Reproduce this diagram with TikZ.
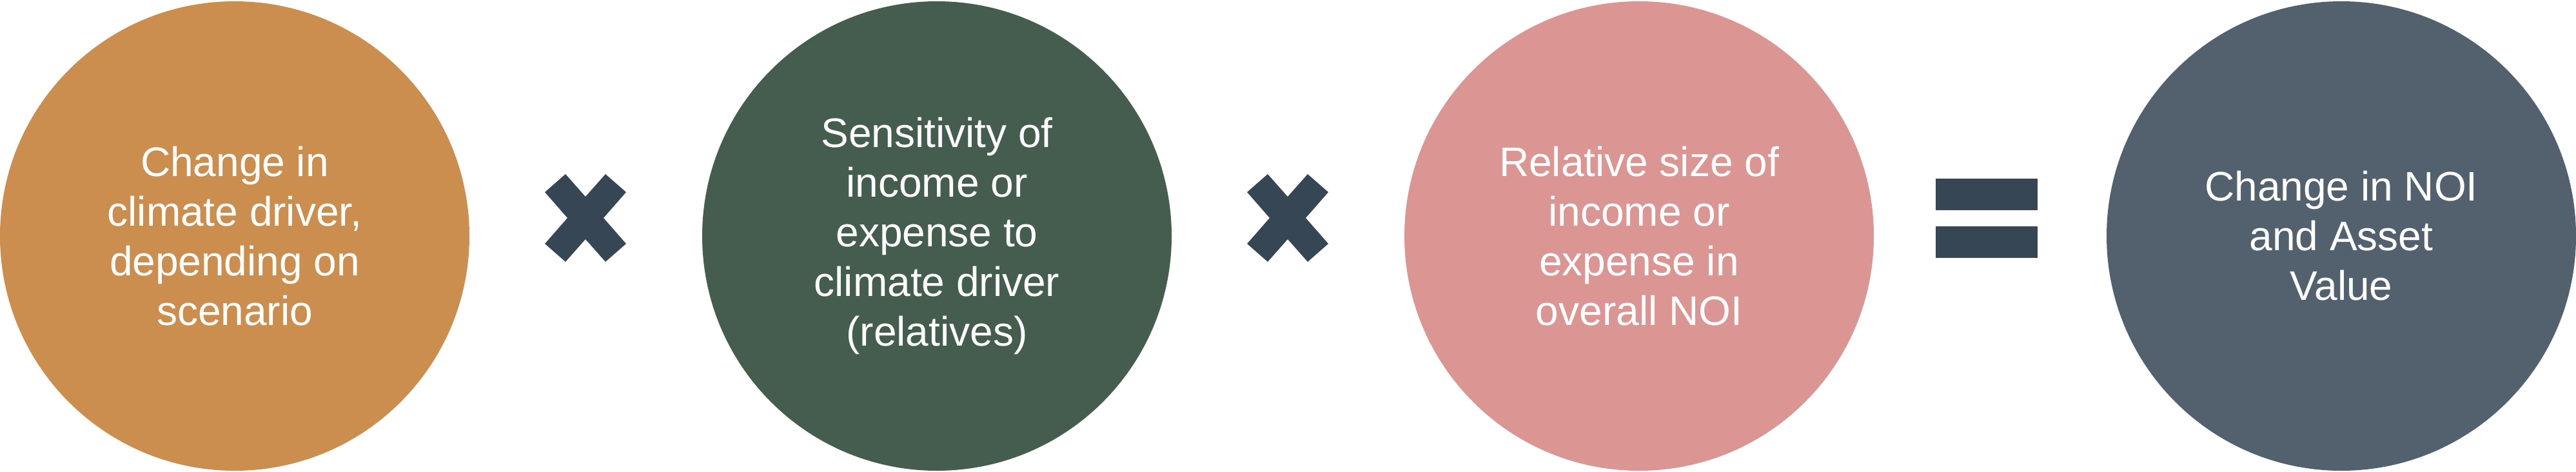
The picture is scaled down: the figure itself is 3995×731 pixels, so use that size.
\documentclass[tikz,border=0pt]{standalone}
\usepackage{fontspec}
\setmainfont{Liberation Sans}
\definecolor{corange}{HTML}{CC8E4E}
\definecolor{cgreen}{HTML}{445D4E}
\definecolor{cpink}{HTML}{DB9593}
\definecolor{cslate}{HTML}{52616D}
\definecolor{csign}{HTML}{364654}
\tikzset{
  bubble/.style={circle, inner sep=0pt, minimum size=182pt, align=center, text=white,
    font=\fontsize{16}{19.25}\selectfont},
  timessign/.pic={\fill[csign] (-31,-68) -- (0,-33) -- (31,-68) -- (63,-40) -- (28,0) -- (63,40)
     -- (31,68) -- (0,33) -- (-31,68) -- (-63,40) -- (-28,0) -- (-63,-40) -- cycle;},
  equalsign/.pic={\fill[csign] (-79,-61.5) rectangle (79,-12.5);
     \fill[csign] (-79,12.5) rectangle (79,61.5);}
}
\begin{document}
\begin{tikzpicture}[x=0.25pt,y=-0.25pt]
\useasboundingbox (0,0) rectangle (3995,731);
\node[bubble, fill=corange] (c1) at (364,366) {Change in\\climate driver,\\depending on\\scenario};
\node[bubble, fill=cgreen] (c2) at (1453,366) {Sensitivity of\\income or\\expense to\\climate driver\\(relatives)};
\node[bubble, fill=cpink] (c3) at (2542,366) {Relative size of\\income or\\expense in\\overall NOI};
\node[bubble, fill=cslate] (c4) at (3631,366) {Change in NOI\\and Asset\\Value};
\coordinate (s1) at (908,338);
\coordinate (s2) at (1997,338);
\coordinate (s3) at (3081,338);
\pic at (s1) {timessign};
\pic at (s2) {timessign};
\pic at (s3) {equalsign};
\end{tikzpicture}
\end{document}
